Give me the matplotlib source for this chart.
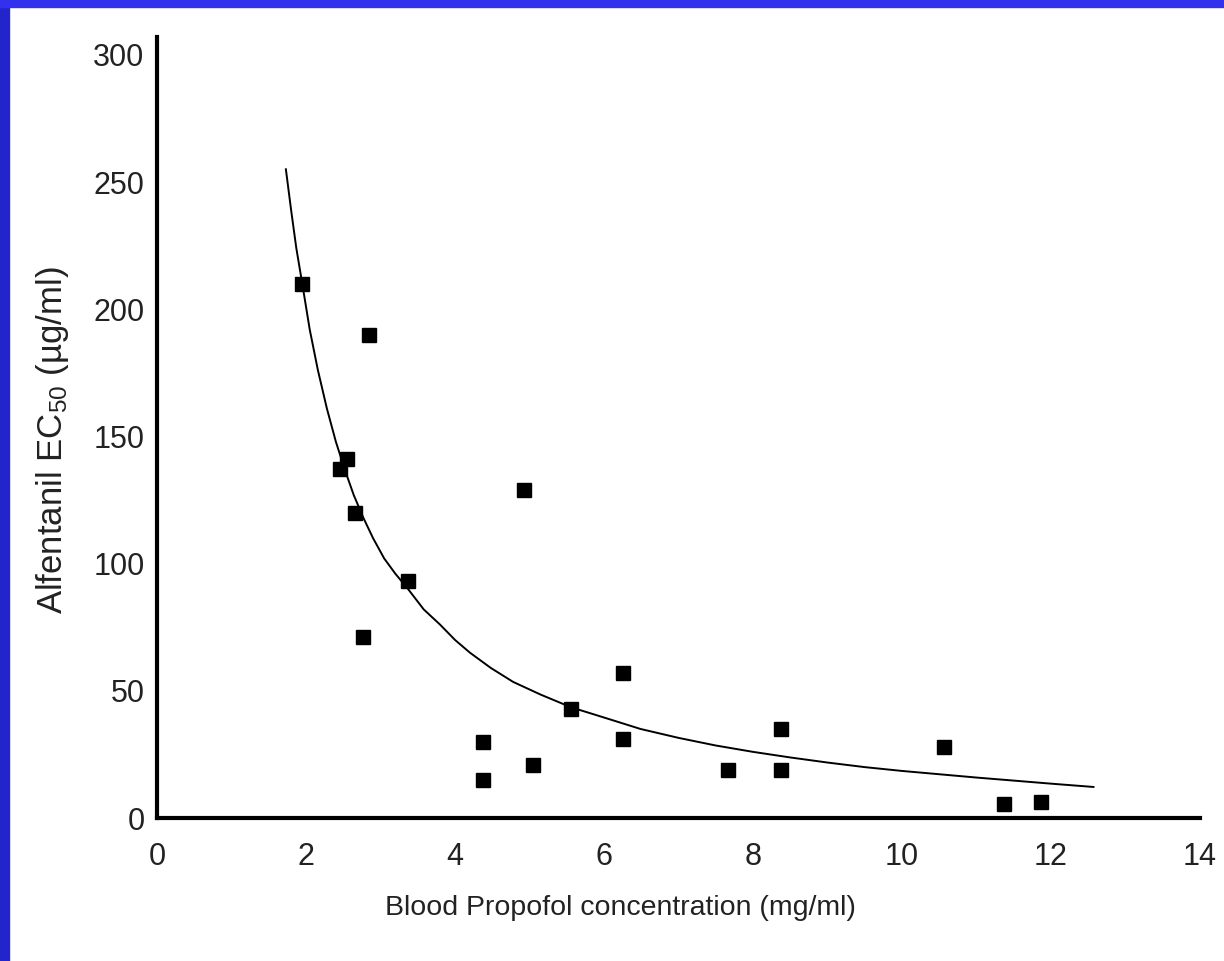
import matplotlib
matplotlib.use("Agg")
import matplotlib.pyplot as plt
from matplotlib.patches import Rectangle

plt.rcParams['font.family'] = ['Liberation Sans', 'DejaVu Sans']
plt.rcParams['mathtext.default'] = 'regular'

# measured points: propofol (mg/ml) vs alfentanil EC50 (ug/ml)
propofol = [1.94, 2.85, 2.46, 2.55, 2.66, 3.37, 2.77, 4.93, 4.37, 4.37,
            5.05, 5.56, 6.25, 6.26, 7.67, 8.37, 8.37, 10.56, 11.37, 11.87]
alfentanil = [210, 190, 137, 141, 120, 93, 71, 129, 30, 15,
              21, 43, 57, 31, 19, 35, 19, 28, 5.5, 6.3]

# fitted curve, read along its length
curve_x = [1.73, 1.8, 1.87, 1.95, 2.05, 2.16, 2.28, 2.4, 2.52, 2.64, 2.77, 2.9,
           3.05, 3.2, 3.37, 3.58, 3.8, 4.0, 4.2, 4.48, 4.78, 5.15, 5.56, 6.0,
           6.49, 7.0, 7.5, 8.0, 8.5, 9.0, 9.5, 10.0, 10.5, 11.0, 11.5, 12.0, 12.57]
curve_y = [255, 239, 224, 210, 192, 176, 161, 148, 137, 127, 118, 110,
           102, 96, 90, 82, 76, 70, 65, 59, 53.5, 48.5, 43.5, 39.5,
           35, 31.5, 28.5, 26, 23.8, 21.8, 20, 18.5, 17.2, 15.9, 14.7, 13.5, 12.2]

xticks = [0, 2, 4, 6, 8, 10, 12, 14]
yticks = [0, 50, 100, 150, 200, 250, 300]

W, H = 1224, 961
fig = plt.figure(figsize=(W / 100, H / 100), dpi=100)
fig.patch.set_facecolor('white')

# blue frame on the left and top edges
fig.patches.append(Rectangle((0, 0), 9 / W, 1, transform=fig.transFigure,
                             color='#2424CC', zorder=0))
fig.patches.append(Rectangle((0, 1 - 7 / H), 1, 7 / H, transform=fig.transFigure,
                             color='#3232EE', zorder=0))

left, bottom, right, top = 157, 818, 1200, 37
ax = fig.add_axes([left / W, 1 - bottom / H, (right - left) / W, (bottom - top) / H])

ax.plot(curve_x, curve_y, color='black', lw=1.4, solid_joinstyle='round')
ax.plot(propofol, alfentanil, 's', color='black', markersize=9.5, ls='none')

ax.set_xlim(0, 14)
ax.set_ylim(0, 307)
ax.set_xticks(xticks)
ax.set_yticks(yticks)
ax.tick_params(length=0, labelsize=22, colors='#222222')
ax.tick_params(axis='x', pad=17)
ax.tick_params(axis='y', pad=9)

for side in ['top', 'right']:
    ax.spines[side].set_visible(False)
for side in ['left', 'bottom']:
    ax.spines[side].set_linewidth(3)
    ax.spines[side].set_color('black')

ax.set_xlabel('Blood Propofol concentration (mg/ml)', fontsize=20.5, color='#222222')
ax.xaxis.set_label_coords(0.444, -0.098)
ax.set_ylabel('Alfentanil EC$_{50}$ (µg/ml)', fontsize=25, color='#222222')
ax.yaxis.set_label_coords(-0.082, 0.484)

fig.savefig('out.png', dpi=100, facecolor='white')
